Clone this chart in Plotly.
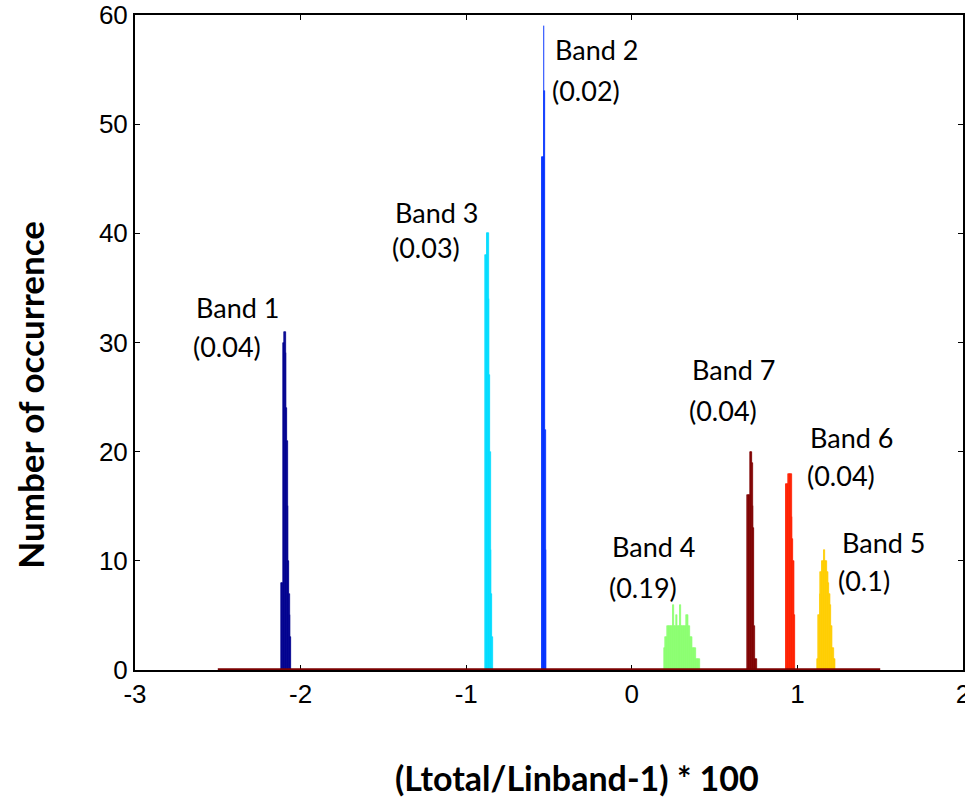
import plotly.graph_objects as go

# ---- data ----
bin_width = 0.004

band1_centers = [-2.117, -2.113, -2.109, -2.105, -2.101, -2.097, -2.093, -2.089, -2.085, -2.081, -2.077, -2.073, -2.069, -2.065, -2.061]
band1_counts = [8, 8, 8, 30, 30, 31, 31, 29, 24, 21, 15, 10, 7, 5, 3]

band2_centers = [-0.543, -0.539, -0.535, -0.531, -0.527, -0.523, -0.519]
band2_counts = [47, 47, 47, 59, 53, 22, 11]

band3_centers = [-0.882, -0.878, -0.874, -0.870, -0.866, -0.862, -0.858, -0.854, -0.850, -0.846, -0.842]
band3_counts = [38, 38, 40, 40, 40, 34, 27, 20, 11, 7, 3]

band4_centers = [0.196, 0.200, 0.204, 0.208, 0.212, 0.216, 0.220, 0.224, 0.228, 0.232, 0.236, 0.240, 0.244,
                 0.248, 0.252, 0.256, 0.260, 0.264, 0.268, 0.272, 0.276, 0.280, 0.284, 0.288, 0.292, 0.296,
                 0.300, 0.304, 0.308, 0.312, 0.316, 0.320, 0.324, 0.328, 0.332, 0.336, 0.340, 0.344, 0.348,
                 0.352, 0.356, 0.360, 0.364, 0.368, 0.372, 0.376, 0.380, 0.384, 0.388, 0.392, 0.396, 0.400,
                 0.404, 0.408]
band4_counts = [2, 2, 3, 3, 3, 4, 4, 4, 4, 4, 4, 4, 4,
                6, 6, 4, 4, 4, 5, 5, 4, 4, 4, 4, 6, 6,
                4, 4, 4, 4, 4, 4, 4, 4, 5, 5, 5, 4, 4,
                3, 3, 3, 3, 2, 2, 2, 2, 2, 1, 1, 1, 1,
                1, 1]

band5_centers = [1.120, 1.124, 1.128, 1.132, 1.136, 1.140, 1.144, 1.148, 1.152, 1.156, 1.160, 1.164, 1.168, 1.172,
                 1.176, 1.180, 1.184, 1.188, 1.192, 1.196, 1.200, 1.204, 1.208, 1.212, 1.216, 1.220, 1.224, 1.228]
band5_counts = [1, 1, 5, 5, 7, 9, 9, 10, 10, 10, 11, 11, 10, 10,
                10, 9, 9, 8, 7, 7, 6, 4, 4, 2, 2, 1, 1, 1]

band6_centers = [0.931, 0.935, 0.939, 0.943, 0.947, 0.951, 0.955, 0.959, 0.963, 0.967, 0.971, 0.975, 0.979, 0.983]
band6_counts = [17, 17, 17, 17, 18, 18, 18, 18, 18, 14, 12, 10, 10, 5]

band7_centers = [0.700, 0.704, 0.708, 0.712, 0.716, 0.720, 0.724, 0.728, 0.732, 0.736, 0.740, 0.744, 0.748, 0.752]
band7_counts = [16, 16, 16, 16, 20, 20, 20, 19, 15, 13, 4, 1, 1, 1]

hist_range = [-2.5, 1.5]   # extent of the histogram bins (zero-count baseline)

band_names = ["Band 1", "Band 2", "Band 3", "Band 4", "Band 5", "Band 6", "Band 7"]
band_spread = ["(0.04)", "(0.02)", "(0.03)", "(0.19)", "(0.1)", "(0.04)", "(0.04)"]
label_x = [-2.642, -0.473, -1.443, -0.130, 1.256, 1.063, 0.352]
label_y1 = [33.2, 56.8, 41.9, 11.3, 11.7, 21.3, 27.5]
label_y2 = [29.6, 53.1, 38.7, 7.6, 8.2, 17.8, 23.8]

x_ticks = [-3, -2, -1, 0, 1, 2]
y_ticks = [0, 10, 20, 30, 40, 50, 60]

colors = ["#00008F", "#0030FF", "#00DCFF", "#8CFF70", "#FFCC00", "#FF2000", "#800000"]

centers = [band1_centers, band2_centers, band3_centers, band4_centers, band5_centers, band6_centers, band7_centers]
counts = [band1_counts, band2_counts, band3_counts, band4_counts, band5_counts, band6_counts, band7_counts]

fig = go.Figure()
for c, n, col in zip(centers, counts, colors):
    fig.add_trace(go.Bar(x=c, y=n, width=bin_width, marker=dict(color=col, line=dict(color=col, width=0.6)),
                         showlegend=False, hoverinfo="x+y"))

fig.add_trace(go.Scatter(x=hist_range, y=[0, 0], mode="lines", line=dict(color="#7A0000", width=3.5),
                         showlegend=False, cliponaxis=False, hoverinfo="skip"))

label_font = dict(family="Lato, sans-serif", size=27, color="black")
for i in range(len(band_names)):
    fig.add_annotation(x=label_x[i], y=label_y1[i], text=band_names[i], showarrow=False,
                       xanchor="left", yanchor="middle", font=label_font)
    fig.add_annotation(x=label_x[i] - 0.02, y=label_y2[i], text=band_spread[i], showarrow=False,
                       xanchor="left", yanchor="middle", font=label_font)

fig.add_annotation(xref="paper", yref="paper", x=-0.127, y=0.42, xanchor="center", yanchor="middle",
                   text="<b>Number of occurrence</b>",
                   textangle=-90, showarrow=False, font=dict(family="Lato, sans-serif", size=35, color="black"))
fig.add_annotation(xref="paper", yref="paper", x=0.534, y=-0.164, xanchor="center", yanchor="middle",
                   text="<b>(Ltotal/Linband-1) * 100</b>",
                   showarrow=False, font=dict(family="Lato, sans-serif", size=34, color="black"))

axis_common = dict(showline=True, linecolor="black", linewidth=2, mirror="ticks", ticks="inside",
                   ticklen=5, tickcolor="black", tickwidth=1, showgrid=False, zeroline=False,
                   automargin=False, layer="below traces", ticklabeloverflow="allow",
                   tickfont=dict(family="Liberation Sans, Arial, sans-serif", size=26, color="black"))

fig.update_xaxes(range=[-3, 2], tickvals=x_ticks, ticktext=[str(v) for v in x_ticks], **axis_common)
fig.update_yaxes(range=[0, 60], tickvals=y_ticks, ticktext=[str(v) for v in y_ticks], **axis_common)

fig.update_layout(width=965, height=797, margin=dict(l=135, r=2, t=15, b=127, autoexpand=False),
                  plot_bgcolor="white", paper_bgcolor="white", barmode="overlay", bargap=0)

# remove the default 8 px page margin so the figure fills the window exactly
fig.write_html("out.html", config={"displayModeBar": False},
               post_script="document.body.style.margin='0';document.body.style.overflow='hidden';")
